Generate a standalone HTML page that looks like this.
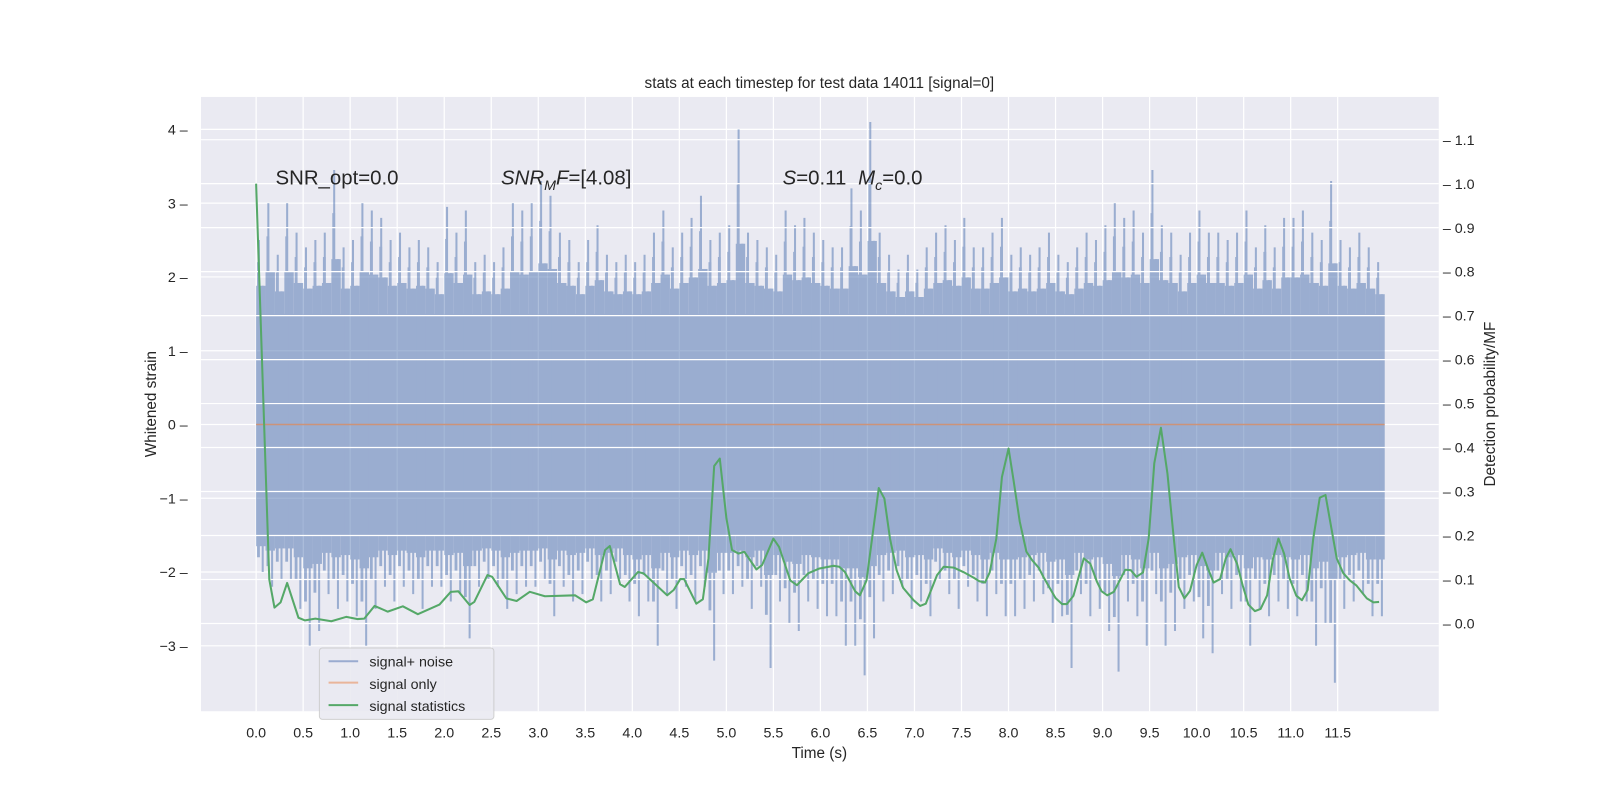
<!DOCTYPE html>
<html><head><meta charset="utf-8"><style>
html,body{margin:0;padding:0;background:#fff;}
svg{display:block;font-family:"Liberation Sans","DejaVu Sans",sans-serif;}
</style></head><body>
<svg id="chart" width="1600" height="800" viewBox="0 0 1600 800" xmlns="http://www.w3.org/2000/svg">
<g transform="scale(1.0204)">
<rect x="197" y="95" width="1213" height="602" fill="#eaeaf2"/>
<g id="leftGrid"></g>
<g id="noise" opacity="0.5"></g>
<line x1="251" x2="1357" y1="416" y2="416" stroke="#dd8452" stroke-width="1.5" opacity="0.7"/>
<g id="rightGrid"></g>
<g id="stats"></g>
<g id="axes"></g>
<text x="803" y="86" font-size="15" text-anchor="middle" fill="#262626">stats at each timestep for test data 14011 [signal=0]</text>
<text x="803" y="743" font-size="15" text-anchor="middle" fill="#262626">Time (s)</text>
<text transform="translate(153,396) rotate(-90)" font-size="15" text-anchor="middle" fill="#262626">Whitened strain</text>
<text transform="translate(1465,396) rotate(-90)" font-size="15" text-anchor="middle" fill="#262626">Detection probability/MF</text>
<text x="270" y="181" font-size="20" fill="#262626">SNR_opt=0.0</text>
<text x="491" y="181" font-size="20" fill="#262626"><tspan font-style="italic">SNR</tspan><tspan font-style="italic" font-size="14" dy="5">M</tspan><tspan font-style="italic" dy="-5">F</tspan>=[4.08]</text>
<text x="767" y="181" font-size="20" fill="#262626"><tspan font-style="italic">S</tspan>=0.11  <tspan font-style="italic" dx="6">M</tspan><tspan font-style="italic" font-size="14" dy="5">c</tspan><tspan dy="-5">=0.0</tspan></text>
<g>
<rect x="313" y="635" width="171" height="70" rx="3" fill="#eaeaf2" stroke="#cccccc" opacity="0.9"/>
<line x1="322" x2="351" y1="648" y2="648" stroke="#9aabd0" stroke-width="2"/>
<text x="362" y="653" font-size="14" fill="#262626">signal+ noise</text>
<line x1="322" x2="351" y1="669" y2="669" stroke="#e9b59a" stroke-width="2"/>
<text x="362" y="675" font-size="14" fill="#262626">signal only</text>
<line x1="322" x2="351" y1="691" y2="691" stroke="#55a868" stroke-width="2"/>
<text x="362" y="697" font-size="14" fill="#262626">signal statistics</text>
</g>
</g>
</svg>
<script>
const xTicks=[0,0.5,1,1.5,2,2.5,3,3.5,4,4.5,5,5.5,6,6.5,7,7.5,8,8.5,9,9.5,10,10.5,11,11.5];
const leftTicks=[4,3,2,1,0,-1,-2,-3];
const rightTicks=[0,0.1,0.2,0.3,0.4,0.5,0.6,0.7,0.8,0.9,1.0,1.1];
const noiseHi=[2.5,3.0,2.3,3.0,2.6,2.4,2.5,2.6,3.45,2.4, 2.5,3.0,2.9,2.8,2.5,2.6,2.4,2.5,2.4,2.2, 2.95,2.6,2.9,2.2,2.3,2.2,2.4,3.0,2.9,3.0, 3.3,3.1,2.6,2.5,2.2,2.5,2.7,2.3,2.2,2.3, 2.2,2.3,2.6,2.9,2.4,2.6,2.8,3.1,2.5,2.6, 2.7,4.0,2.6,2.5,2.4,2.3,2.9,2.7,2.8,2.6, 2.5,2.4,2.4,3.2,2.9,4.1,2.6,2.3,2.1,2.3, 2.1,2.4,2.6,2.7,2.5,2.8,2.4,2.4,2.6,2.8, 2.3,2.4,2.3,2.4,2.6,2.3,2.2,2.4,2.6,2.5, 2.7,3.0,2.8,2.9,2.6,3.45,2.7,2.6,2.3,2.6, 2.9,2.6,2.6,2.5,2.6,2.9,2.4,2.7,2.4,2.8, 2.8,2.9,2.6,2.5,3.3,2.5,2.4,2.6,2.4,2.2];
const noiseLo=[-2.0,-2.2,-2.1,-2.1,-2.5,-3.0,-2.8,-2.3,-2.5,-2.4, -2.6,-3.0,-2.5,-2.2,-2.4,-2.2,-2.3,-2.5,-2.2,-2.2, -2.4,-2.3,-2.9,-2.2,-2.1,-2.2,-2.5,-2.3,-2.2,-2.2, -2.1,-2.6,-2.2,-2.4,-2.3,-2.1,-2.4,-2.3,-2.1,-2.4, -2.6,-2.4,-3.0,-2.3,-2.5,-2.2,-2.4,-2.2,-3.2,-2.3, -2.3,-2.2,-2.5,-2.2,-3.3,-2.4,-2.7,-2.8,-2.4,-2.5, -2.6,-2.6,-3.0,-3.0,-3.4,-2.9,-2.4,-2.3,-2.2,-2.5, -2.4,-2.6,-2.1,-2.3,-2.5,-2.2,-2.4,-2.6,-2.3,-2.6, -2.6,-2.5,-2.4,-2.3,-2.7,-2.6,-3.3,-2.3,-2.6,-2.5, -2.8,-3.35,-2.4,-2.6,-3.0,-2.3,-3.0,-2.8,-2.5,-2.4, -2.9,-3.1,-2.3,-2.5,-2.4,-3.0,-2.5,-2.6,-2.4,-2.5, -2.6,-2.4,-3.0,-2.7,-3.5,-2.5,-2.4,-2.3,-2.6,-2.6];
const statT=[0,0.14,0.195,0.26,0.33,0.45,0.52,0.63,0.80,0.96,1.08,1.15,1.26,1.40,1.56,1.72,1.95,2.07,2.15,2.27,2.32,2.46,2.51,2.66,2.77,2.91,3.07,3.39,3.51,3.58,3.71,3.76,3.87,3.92,4.06,4.12,4.37,4.44,4.51,4.55,4.68,4.75,4.81,4.87,4.93,5.0,5.06,5.13,5.19,5.32,5.38,5.50,5.56,5.68,5.75,5.87,5.99,6.14,6.20,6.26,6.37,6.42,6.49,6.62,6.68,6.74,6.81,6.88,6.99,7.06,7.12,7.24,7.31,7.42,7.52,7.63,7.69,7.75,7.80,7.87,7.93,8.00,8.05,8.12,8.19,8.25,8.32,8.37,8.50,8.57,8.62,8.69,8.80,8.87,8.94,8.99,9.05,9.12,9.24,9.30,9.36,9.43,9.49,9.55,9.62,9.69,9.75,9.81,9.87,9.93,10.0,10.06,10.12,10.18,10.25,10.31,10.36,10.43,10.49,10.55,10.62,10.68,10.75,10.81,10.87,10.93,10.99,11.06,11.12,11.18,11.24,11.31,11.37,11.43,11.49,11.56,11.63,11.70,11.76,11.81,11.88,11.94];
const statV=[1.0,0.10,0.036,0.048,0.092,0.013,0.007,0.011,0.005,0.015,0.01,0.011,0.040,0.027,0.039,0.021,0.043,0.072,0.073,0.042,0.049,0.11,0.106,0.057,0.051,0.072,0.062,0.064,0.048,0.055,0.167,0.176,0.089,0.083,0.117,0.114,0.064,0.076,0.101,0.101,0.045,0.055,0.148,0.358,0.375,0.239,0.167,0.159,0.163,0.123,0.133,0.193,0.174,0.098,0.087,0.114,0.125,0.131,0.129,0.117,0.073,0.064,0.098,0.308,0.284,0.193,0.121,0.081,0.053,0.040,0.045,0.110,0.129,0.127,0.117,0.104,0.096,0.093,0.116,0.193,0.333,0.398,0.330,0.231,0.163,0.144,0.127,0.106,0.058,0.044,0.044,0.063,0.148,0.136,0.095,0.073,0.064,0.072,0.122,0.121,0.106,0.116,0.193,0.364,0.445,0.341,0.208,0.083,0.057,0.074,0.133,0.161,0.125,0.093,0.101,0.148,0.169,0.136,0.086,0.043,0.028,0.033,0.064,0.146,0.193,0.159,0.102,0.063,0.053,0.076,0.193,0.286,0.292,0.220,0.148,0.114,0.098,0.086,0.070,0.057,0.048,0.049];
const NS='http://www.w3.org/2000/svg';
const X=t=>251+t*92.17, YL=v=>416-v*72.3, YR=v=>611-v*431;
function mk(tag,attrs,parent){const e=document.createElementNS(NS,tag);for(const k in attrs)e.setAttribute(k,attrs[k]);parent.appendChild(e);return e;}
const lg=document.getElementById('leftGrid'), rg=document.getElementById('rightGrid'), ax=document.getElementById('axes'), nz=document.getElementById('noise'), st=document.getElementById('stats');
xTicks.forEach(t=>{
 const l=mk('line',{x1:X(t),x2:X(t),y1:95,y2:697,stroke:'#fff','stroke-width':1.2},lg);
 
 
 const tx=mk('text',{x:X(t),y:723,'font-size':14,'text-anchor':'middle',fill:'#262626'},ax);
 tx.textContent=t.toFixed(1);
 
 
});
leftTicks.forEach(v=>{
 const l=mk('line',{x1:197,x2:1410,y1:YL(v),y2:YL(v),stroke:'#fff','stroke-width':1.2},lg);
 
 
 const tx=mk('text',{x:184,y:YL(v)+5,'font-size':14,'text-anchor':'end',fill:'#262626'},ax);
 tx.textContent=(v<0?'\u2212':'')+Math.abs(v)+' \u2013';
 
 
});
rightTicks.forEach(v=>{
 const l=mk('line',{x1:197,x2:1410,y1:YR(v),y2:YR(v),stroke:'#fff','stroke-width':1.2},rg);
 
 
 const tx=mk('text',{x:1414,y:YR(v)+5,'font-size':14,fill:'#262626'},ax);
 tx.textContent='\u2013 '+v.toFixed(1);
 
 
});
const core=mk('rect',{x:X(0),y:YL(1.5),width:X(11.95)-X(0),height:YL(-1.5)-YL(1.5),fill:'#4c72b0'},nz);


noiseHi.forEach((h,i)=>{
 const t=i*0.1, lo=noiseLo[i], w=0.1*92.17;
 const mh=1.5+(h-1.5)*0.38, ml=-1.5+(lo+1.5)*0.3;
 const r=mk('rect',{x:X(t),y:YL(mh),width:w,height:YL(ml)-YL(mh),fill:'#4c72b0'},nz);
 
 
 const s1=mk('line',{x1:X(t+0.03),x2:X(t+0.03),y1:YL(h),y2:YL(ml),stroke:'#4c72b0','stroke-width':2},nz);
 
 
 const s2=mk('line',{x1:X(t+0.07),x2:X(t+0.07),y1:YL(lo),y2:YL(mh),stroke:'#4c72b0','stroke-width':2},nz);
 
 
 const s3=mk('rect',{x:X(t+0.01),y:YL(1.5+(h-1.5)*0.7),width:w*0.3,height:YL(-1.5+(lo+1.5)*0.6)-YL(1.5+(h-1.5)*0.7),fill:'#4c72b0'},nz);
 
 
});
const pts=statT.map((t,i)=>X(t).toFixed(1)+','+YR(statV[i]).toFixed(1)).join(' ');
const pl=mk('polyline',{points:pts,fill:'none',stroke:'#55a868','stroke-width':2,'stroke-linejoin':'round'},st);


</script>
</body></html>
